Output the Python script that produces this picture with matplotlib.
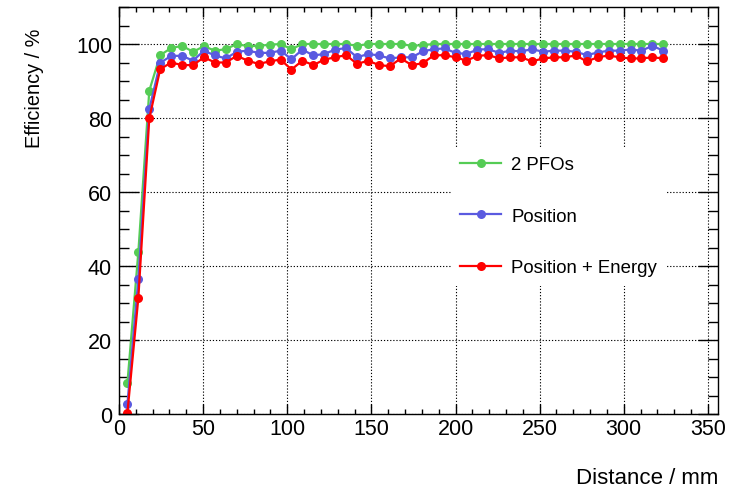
import matplotlib
matplotlib.use("Agg")
import matplotlib.pyplot as plt
from matplotlib.ticker import MultipleLocator
import numpy as np

plt.rcParams['font.family'] = ['Liberation Sans', 'DejaVu Sans']

# Distance (mm)
distance = [5 + 6.5 * k for k in range(50)]

eff_2pfo = [8.4, 43.8, 87.4, 97.0, 98.9, 99.5, 97.9, 99.4, 98.2, 98.6,
            100.0, 99.4, 99.5, 99.8, 100.0, 98.6, 100.0, 100.0, 100.0, 100.0,
            100.0, 99.5, 100.0, 100.0, 100.0, 100.0, 99.5, 99.7, 100.0, 100.0,
            100.0, 100.0, 100.0, 100.0, 100.0, 100.0, 100.0, 100.0, 100.0, 100.0,
            100.0, 100.0, 100.0, 100.0, 100.0, 100.0, 100.0, 100.0, 100.0, 100.0]

eff_position = [2.7, 36.5, 82.4, 94.9, 96.8, 96.8, 95.5, 98.2, 96.9, 96.1,
                97.9, 98.2, 97.6, 97.6, 98.2, 95.9, 98.5, 96.9, 97.3, 98.5,
                98.9, 96.4, 97.3, 96.9, 96.1, 96.4, 96.4, 98.0, 98.6, 98.8,
                97.6, 97.3, 98.5, 98.6, 97.6, 98.2, 98.0, 98.6, 97.9, 98.2,
                98.2, 97.9, 97.0, 97.7, 98.2, 98.2, 98.5, 98.2, 99.5, 98.2]

eff_pos_energy = [0.3, 31.4, 79.9, 93.2, 95.0, 94.3, 94.3, 96.4, 95.0, 95.0,
                  96.8, 95.5, 94.6, 95.3, 95.8, 93.1, 95.5, 94.3, 95.8, 96.4,
                  97.0, 94.6, 95.5, 94.3, 94.0, 96.1, 94.3, 94.8, 96.9, 97.0,
                  96.4, 95.5, 96.8, 97.0, 96.1, 96.4, 96.4, 95.3, 96.1, 96.4,
                  96.4, 96.9, 95.3, 96.4, 96.9, 96.4, 96.1, 96.1, 96.4, 96.1]

labels = ["2 PFOs", "Position", "Position + Energy"]
colors = ["#55cc55", "#5a5ae0", "#ff0000"]

W, H = 754, 489
fig = plt.figure(figsize=(W / 100, H / 100), dpi=100)
left, right, top, bottom = 119, 718, 8, 415
ax = fig.add_axes([left / W, 1 - bottom / H, (right - left) / W, (bottom - top) / H])

for y, lab, c in zip([eff_2pfo, eff_position, eff_pos_energy], labels, colors):
    ax.plot(distance, y, color=c, lw=1.6, marker='o', markersize=6.5,
            markeredgewidth=0, label=lab, clip_on=True)

ax.set_xlim(0, 356)
ax.set_ylim(0, 110)
ax.xaxis.set_major_locator(MultipleLocator(50))
ax.xaxis.set_minor_locator(MultipleLocator(10))
ax.yaxis.set_major_locator(MultipleLocator(20))
ax.yaxis.set_minor_locator(MultipleLocator(5))

ax.grid(True, which='major', color='black', linestyle=(0, (1.1, 1.7)), linewidth=0.8)
ax.set_axisbelow(True)

ax.tick_params(axis='x', which='major', direction='in', length=7.2, width=1,
               top=True, bottom=True, labelsize=15.5, pad=3)
ax.tick_params(axis='x', which='minor', direction='in', length=3.6, width=1,
               top=True, bottom=True)
ax.tick_params(axis='y', which='major', direction='in', length=14.4, width=1,
               left=True, right=True, labelsize=15.5, pad=5)
ax.tick_params(axis='y', which='minor', direction='in', length=7.2, width=1,
               left=True, right=True)
for s in ax.spines.values():
    s.set_linewidth(1.0)

fig.text(35 / W, 1 - 29 / H, "Efficiency / %", rotation=90, ha='center', va='top',
         fontsize=14.3)
fig.text(718 / W, 1 - 484 / H, "Distance / mm", ha='right', va='baseline',
         fontsize=16)

leg = ax.legend(loc='upper left', bbox_to_anchor=(451 / W, 1 - 148 / H),
                bbox_transform=fig.transFigure, frameon=True, fontsize=13.4,
                handlelength=2.2, handletextpad=0.55, labelspacing=1.85,
                borderpad=0.5, borderaxespad=0, fancybox=False)
leg.get_frame().set_facecolor('white')
leg.get_frame().set_edgecolor('none')
leg.get_frame().set_alpha(1.0)

fig.savefig("out.png", dpi=100)
